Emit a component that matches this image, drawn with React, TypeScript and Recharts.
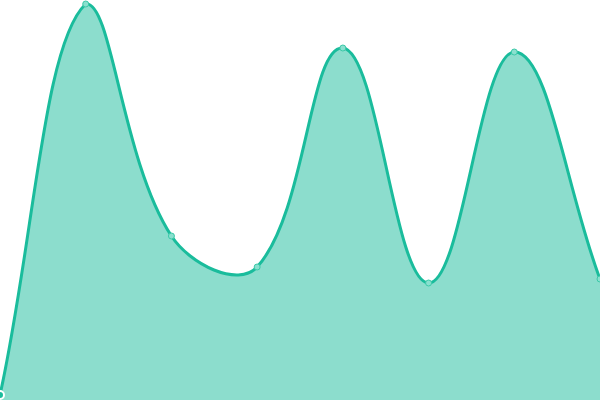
import { AreaChart, Area, XAxis, YAxis } from "recharts";

const labels = ["A", "B", "C", "D", "E", "F", "G", "H"];
const values = [1.25, 99, 41, 33.25, 88, 29.25, 87, 30.25];

const data = labels.map((l, i) => ({ name: l, value: values[i] }));

const W = 600;
const H = 400;

// spline like Chart.js (tension 0.4), control points capped to the plot area
function splineCurve(context: any) {
  const t = 0.4;
  let pts: [number, number][] = [];
  let line: number | undefined = undefined;
  const cap = (x: number, y: number): [number, number] => [
    Math.max(0, Math.min(W, x)),
    Math.max(0, Math.min(H, y)),
  ];
  return {
    areaStart() {
      line = 0;
    },
    areaEnd() {
      line = NaN;
    },
    lineStart() {
      pts = [];
    },
    point(x: number, y: number) {
      pts.push([x, y]);
    },
    lineEnd() {
      const n = pts.length;
      if (n) {
        if (line) context.lineTo(pts[0][0], pts[0][1]);
        else context.moveTo(pts[0][0], pts[0][1]);
        const cps = pts.map((cur, i) => {
          const prev = pts[i - 1] || cur;
          const next = pts[i + 1] || cur;
          const d01 = Math.hypot(cur[0] - prev[0], cur[1] - prev[1]);
          const d12 = Math.hypot(next[0] - cur[0], next[1] - cur[1]);
          let fa = (t * d01) / (d01 + d12);
          let fb = (t * d12) / (d01 + d12);
          if (isNaN(fa)) fa = 0;
          if (isNaN(fb)) fb = 0;
          const dx = next[0] - prev[0];
          const dy = next[1] - prev[1];
          return {
            prev: cap(cur[0] - fa * dx, cur[1] - fa * dy),
            next: cap(cur[0] + fb * dx, cur[1] + fb * dy),
          };
        });
        for (let i = 1; i < n; i++) {
          const a = cps[i - 1].next;
          const b = cps[i].prev;
          context.bezierCurveTo(a[0], a[1], b[0], b[1], pts[i][0], pts[i][1]);
        }
      }
      if (line || (line !== 0 && n === 1)) context.closePath();
      line = 1 - (line as number);
    },
  };
}

export default function App() {
  return (
    <div style={{ position: "absolute", left: 0, top: 0, width: W, height: H }}>
      <AreaChart width={W} height={H} data={data} margin={{ top: 0, right: 0, bottom: 0, left: 0 }}>
        <XAxis dataKey="name" hide />
        <YAxis domain={[0, 100]} hide />
        <Area
          type={splineCurve as any}
          dataKey="value"
          stroke="#1abc9c"
          strokeWidth={3}
          fill="#1abc9c"
          fillOpacity={0.5}
          dot={{ r: 3, fill: "#8ae0cf", stroke: "#3cc9a8", strokeWidth: 1, fillOpacity: 1 }}
          isAnimationActive={false}
        />
      </AreaChart>
    </div>
  );
}
